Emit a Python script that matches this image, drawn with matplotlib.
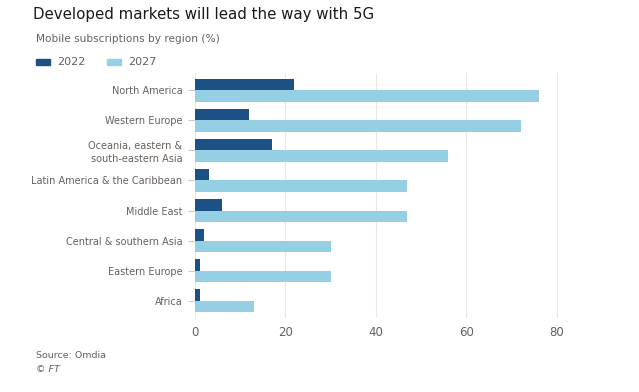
import numpy as np
import matplotlib.pyplot as plt

regions = ["North America", "Western Europe", "Oceania, eastern &\nsouth-eastern Asia",
           "Latin America & the Caribbean", "Middle East", "Central & southern Asia",
           "Eastern Europe", "Africa"]
subs_2022 = [22, 12, 17, 3, 6, 2, 1, 1]
subs_2027 = [76, 72, 56, 47, 47, 30, 30, 13]
xticks = [0, 20, 40, 60, 80]

dark = "#1d5085"
light = "#95cfe4"
grey = "#66605c"

fig = plt.figure(figsize=(6.39, 3.92), dpi=100)
ax = fig.add_axes([195 / 639, 1 - 318 / 392, (568 - 195) / 639, (318 - 73) / 392])

y = np.arange(len(regions))
h = 0.39
ax.barh(y - h / 2, subs_2022, height=h, color=dark, label="2022")
ax.barh(y + h / 2, subs_2027, height=h, color=light, label="2027")

ax.set_ylim(len(regions) - 0.42, -0.58)
ax.set_xlim(0, 82.5)
ax.set_yticks(y)
ax.set_yticklabels(regions, fontsize=7, color=grey, linespacing=1.35)
ax.set_xticks(xticks)
ax.set_xticklabels([str(t) for t in xticks], fontsize=8.5, color=grey)
ax.tick_params(axis="y", length=5, color="#cccccc", pad=4)
ax.tick_params(axis="x", length=0, pad=6)
ax.grid(axis="x", color="#e8e8e8", linewidth=0.8)
ax.set_axisbelow(True)
for s in ax.spines.values():
    s.set_visible(False)

fig.text(33 / 639, 1 - 14 / 392, "Developed markets will lead the way with 5G",
         fontsize=10.8, color="#1a1a1a", va="center")
fig.text(36 / 639, 1 - 39 / 392, "Mobile subscriptions by region (%)",
         fontsize=7.6, color=grey, va="center")

# legend
fig.patches.append(plt.Rectangle((36 / 639, 1 - 65 / 392), 14 / 639, 6 / 392,
                                 transform=fig.transFigure, color=dark))
fig.text(57 / 639, 1 - 62 / 392, "2022", fontsize=8, color=grey, va="center")
fig.patches.append(plt.Rectangle((107 / 639, 1 - 65 / 392), 14 / 639, 6 / 392,
                                 transform=fig.transFigure, color=light))
fig.text(128 / 639, 1 - 62 / 392, "2027", fontsize=8, color=grey, va="center")

fig.text(36 / 639, 1 - 356 / 392, "Source: Omdia", fontsize=6.8, color=grey, va="center")
fig.text(36 / 639, 1 - 369 / 392, "© FT", fontsize=6.8, color=grey, va="center", style="italic")

fig.savefig("out.png", dpi=100)
